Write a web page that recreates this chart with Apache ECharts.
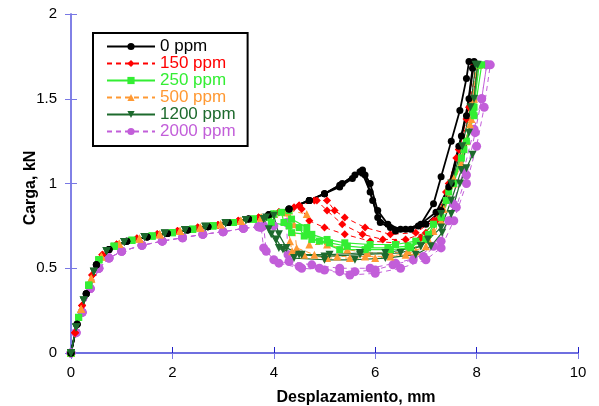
<!DOCTYPE html>
<html>
<head>
<meta charset="utf-8">
<script src="https://cdn.jsdelivr.net/npm/echarts@6/dist/echarts.min.js"></script>
<style>html,body{margin:0;padding:0;background:#fff}#c{width:599px;height:406px}</style>
</head>
<body>
<div id="c"></div>
<script>
// ---- data: [displacement mm, load kN] ----
const xTicks = [0, 2, 4, 6, 8, 10];
const yTicks = [0, 0.5, 1, 1.5, 2];
const groupNames = ['0 ppm', '150 ppm', '250 ppm', '500 ppm', '1200 ppm', '2000 ppm'];

const base0 = [[0,0],[0.12,0.17],[0.3,0.35],[0.5,0.52],[0.75,0.61],[1.1,0.66],[1.5,0.685],[1.9,0.705],[2.3,0.725],[2.7,0.745],[3.1,0.77],[3.5,0.79],[3.9,0.815],[4.3,0.85],[4.7,0.90],[5.0,0.94]];
const p0a = [[5.3,0.99],[5.6,1.05],[5.75,1.06],[5.9,0.95],[6.05,0.80],[6.3,0.74],[6.6,0.73],[6.9,0.76],[7.15,0.88],[7.3,1.04],[7.5,1.25],[7.67,1.43],[7.8,1.62],[7.85,1.72]];
const p0b = [[5.35,1.0],[5.7,1.07],[5.8,1.05],[5.95,0.90],[6.1,0.77],[6.4,0.72],[6.7,0.73],[7.0,0.76],[7.3,0.84],[7.5,1.0],[7.7,1.28],[7.85,1.50],[7.95,1.72]];
const p0c = [[5.3,0.98],[5.55,1.03],[5.75,1.08],[5.9,1.0],[6.05,0.84],[6.25,0.76],[6.5,0.73],[6.85,0.75],[7.2,0.83],[7.45,0.98],[7.65,1.22],[7.8,1.40],[7.92,1.68]];

const base150 = [[0,0],[0.08,0.12],[0.22,0.28],[0.42,0.46],[0.62,0.58],[0.9,0.64],[1.3,0.675],[1.7,0.70],[2.1,0.72],[2.5,0.74],[2.9,0.755],[3.3,0.78],[3.7,0.80],[4.1,0.83]];
const p150a = [[4.5,0.87],[4.85,0.90],[5.05,0.84],[5.35,0.76],[5.75,0.70],[6.15,0.67],[6.6,0.67],[7.0,0.71],[7.25,0.82],[7.45,1.0],[7.65,1.2],[7.85,1.45],[8.0,1.70]];
const p150b = [[4.4,0.86],[4.55,0.85],[4.7,0.78],[5.0,0.74],[5.4,0.70],[5.9,0.66],[6.4,0.65],[6.9,0.68],[7.2,0.78],[7.4,0.95],[7.6,1.15],[7.8,1.38],[7.95,1.70]];
const p150c = [[4.5,0.87],[4.8,0.90],[5.05,0.90],[5.2,0.84],[5.4,0.80],[5.8,0.74],[6.3,0.70],[6.8,0.71],[7.15,0.78],[7.4,0.95],[7.65,1.20],[7.9,1.45],[8.02,1.70]];

const base250 = [[0,0],[0.15,0.21],[0.35,0.40],[0.55,0.55],[0.85,0.63],[1.2,0.665],[1.6,0.69],[2.0,0.71],[2.4,0.73],[2.8,0.75],[3.2,0.77],[3.6,0.79]];
const p250a = [[3.9,0.80],[3.95,0.77],[4.3,0.75],[4.35,0.71],[4.65,0.70],[4.75,0.67],[5.1,0.65],[5.45,0.63],[5.85,0.62],[6.25,0.62],[6.65,0.63],[7.0,0.67],[7.3,0.80],[7.55,1.0],[7.8,1.25],[7.95,1.45],[8.05,1.70]];
const p250b = [[4.0,0.82],[4.3,0.84],[4.35,0.79],[4.65,0.74],[4.75,0.70],[5.05,0.67],[5.4,0.65],[5.9,0.64],[6.4,0.64],[6.8,0.66],[7.15,0.76],[7.45,0.95],[7.75,1.2],[7.93,1.42],[8.02,1.70]];
const p250c = [[4.0,0.82],[4.15,0.83],[4.2,0.77],[4.5,0.74],[4.6,0.69],[4.9,0.66],[5.3,0.61],[5.8,0.61],[6.3,0.61],[6.7,0.62],[7.05,0.70],[7.4,0.90],[7.7,1.15],[7.95,1.40],[8.1,1.70]];

const base500 = [[0,0],[0.2,0.26],[0.4,0.44],[0.6,0.57],[0.95,0.645],[1.35,0.675],[1.75,0.70],[2.15,0.72],[2.55,0.74],[2.95,0.76],[3.35,0.78],[3.75,0.80],[4.0,0.82]];
const p500a = [[4.25,0.83],[4.32,0.66],[4.36,0.60],[4.6,0.58],[5.05,0.56],[5.5,0.56],[6.0,0.56],[6.6,0.58],[7.0,0.63],[7.3,0.78],[7.55,1.0],[7.8,1.25],[7.95,1.50],[8.02,1.70]];
const p500b = [[4.3,0.84],[4.65,0.82],[4.68,0.70],[4.7,0.64],[5.05,0.64],[5.45,0.61],[5.85,0.59],[6.3,0.59],[6.65,0.60],[7.05,0.67],[7.35,0.85],[7.55,1.03],[7.87,1.35],[8.0,1.70]];
const p500c = [[4.25,0.83],[4.4,0.76],[4.45,0.62],[4.8,0.58],[5.25,0.57],[5.8,0.57],[6.3,0.57],[6.8,0.60],[7.15,0.72],[7.45,0.92],[7.7,1.12],[7.9,1.38],[8.05,1.70]];

const base1200 = [[0,0],[0.1,0.15],[0.25,0.31],[0.45,0.48],[0.7,0.60],[1.05,0.655],[1.45,0.685],[1.85,0.705],[2.25,0.725],[2.65,0.745],[3.05,0.765],[3.45,0.785]];
const p1200a = [[3.8,0.79],[3.9,0.73],[4.05,0.67],[4.18,0.61],[4.5,0.58],[5.0,0.57],[5.7,0.58],[6.5,0.59],[6.9,0.63],[7.3,0.74],[7.5,0.90],[7.7,1.08],[7.85,1.30],[7.95,1.50],[8.02,1.70]];
const p1200b = [[3.85,0.80],[4.0,0.81],[4.1,0.70],[4.25,0.62],[4.55,0.58],[5.1,0.58],[5.7,0.59],[6.2,0.59],[6.9,0.63],[7.04,0.67],[7.3,0.82],[7.5,1.0],[7.72,1.22],[7.88,1.45],[7.98,1.70]];
const p1200c = [[3.8,0.79],[3.95,0.70],[4.1,0.62],[4.4,0.56],[5.0,0.55],[5.6,0.55],[6.2,0.56],[6.8,0.58],[7.1,0.63],[7.32,0.71],[7.5,0.82],[7.67,1.0],[7.8,1.09],[7.92,1.17]];

const base2000 = [[0,0],[0.1,0.12],[0.22,0.24],[0.38,0.38],[0.55,0.50],[0.75,0.56],[1.0,0.60],[1.4,0.635],[1.8,0.66],[2.2,0.68],[2.6,0.70],[3.0,0.715],[3.4,0.735],[3.7,0.745]];
const p2000a = [[3.75,0.74],[3.8,0.62],[4.0,0.55],[4.5,0.51],[4.9,0.50],[5.3,0.48],[5.6,0.48],[6.0,0.49],[6.35,0.52],[6.75,0.55],[7.15,0.63],[7.45,0.78],[7.6,0.86],[7.8,1.05],[7.97,1.30],[8.1,1.50],[8.2,1.70]];
const p2000b = [[3.8,0.75],[3.85,0.60],[4.1,0.53],[4.55,0.50],[5.0,0.49],[5.5,0.46],[6.0,0.47],[6.5,0.50],[7.0,0.55],[7.3,0.62],[7.55,0.78],[7.8,1.0],[8.0,1.22],[8.15,1.45],[8.27,1.70]];
const p2000c = [[4.0,0.75],[4.25,0.77],[4.28,0.58],[4.3,0.54],[4.75,0.52],[5.3,0.50],[5.9,0.50],[6.4,0.53],[6.95,0.57],[7.3,0.66],[7.54,0.88],[7.75,1.08],[7.95,1.32],[8.1,1.50],[8.2,1.70]];

// ---- styles ----
const groups = [
  {name: groupNames[5], color: '#c25ed9', symbol: 'circle', size: 9, type: [5,4], width: 1, rot: 0, base: base2000, tails: [p2000a, p2000b, p2000c]},
  {name: groupNames[1], color: '#ff0000', symbol: 'diamond', size: 8, type: [5,4], width: 1, rot: 0, base: base150, tails: [p150a, p150b, p150c]},
  {name: groupNames[3], color: '#ff9933', symbol: 'triangle', size: 8, type: [5,4], width: 1, rot: 0, base: base500, tails: [p500a, p500b, p500c]},
  {name: groupNames[2], color: '#33ee33', symbol: 'rect', size: 7, type: 'solid', width: 1.2, rot: 0, base: base250, tails: [p250a, p250b, p250c]},
  {name: groupNames[0], color: '#000000', symbol: 'circle', size: 7, type: 'solid', width: 1.8, rot: 0, base: base0, tails: [p0a, p0b, p0c]},
  {name: groupNames[4], color: '#1d6a2d', symbol: 'triangle', size: 8, type: 'solid', width: 1.2, rot: 180, base: base1200, tails: [p1200a, p1200b, p1200c]}
];

const series = [];
groups.forEach(g => {
  g.tails.forEach(t => {
    series.push({
      name: g.name, type: 'line', xAxisIndex: 0, yAxisIndex: 0,
      data: g.base.concat(t),
      symbol: g.symbol, symbolSize: g.size, symbolRotate: g.rot, showSymbol: true,
      lineStyle: {color: g.color, width: g.width, type: g.type},
      itemStyle: {color: g.color},
      emphasis: {disabled: true}, animation: false, smooth: false
    });
  });
});

const legendColors = {'0 ppm':'#000000','150 ppm':'#ff0000','250 ppm':'#33ee33','500 ppm':'#ff9933','1200 ppm':'#1d6a2d','2000 ppm':'#c25ed9'};
const font = "'Liberation Sans', Arial, sans-serif";
const lightBlue = '#7878e4';
const darkBlue = '#2020c8';

const chart = echarts.init(document.getElementById('c'), null, {renderer: 'canvas'});
chart.setOption({
  animation: false,
  backgroundColor: '#ffffff',
  grid: {left: 71, right: 21, top: 14, bottom: 53},
  legend: {
    orient: 'vertical', left: 93, top: 33,
    data: groupNames.map(n => ({name: n, textStyle: {color: legendColors[n]}})),
    itemWidth: 48, itemHeight: 9, itemGap: 0,
    padding: [5, 12, 6, 13],
    borderColor: '#000', borderWidth: 2, backgroundColor: '#fff',
    textStyle: {fontFamily: font, fontSize: 17, lineHeight: 17, padding: [0,0,0,0]},
    selectedMode: false
  },
  xAxis: [
    {type: 'value', min: xTicks[0], max: xTicks[xTicks.length-1], interval: 2, position: 'bottom',
     axisLine: {show: true, lineStyle: {color: darkBlue, width: 1.5}},
     axisTick: {show: true, inside: true, length: 6, lineStyle: {color: darkBlue}},
     axisLabel: {color: '#000', fontFamily: font, fontSize: 15, margin: 12},
     splitLine: {show: false}},
    {type: 'value', min: 0, max: 10, interval: 2, position: 'top',
     axisLine: {show: true, lineStyle: {color: lightBlue, width: 1.5}},
     axisTick: {show: true, inside: true, length: 6, lineStyle: {color: lightBlue}},
     axisLabel: {show: false}, splitLine: {show: false}}
  ],
  yAxis: [
    {type: 'value', min: yTicks[0], max: yTicks[yTicks.length-1], interval: 0.5, position: 'left',
     axisLine: {show: true, lineStyle: {color: lightBlue, width: 1.5}},
     axisTick: {show: true, inside: true, length: 6, lineStyle: {color: lightBlue}},
     axisLabel: {color: '#000', fontFamily: font, fontSize: 15, margin: 14},
     splitLine: {show: false}},
    {type: 'value', min: 0, max: 2, interval: 0.5, position: 'right',
     axisLine: {show: true, lineStyle: {color: lightBlue, width: 1.5}},
     axisTick: {show: true, inside: true, length: 6, lineStyle: {color: lightBlue}},
     axisLabel: {show: false}, splitLine: {show: false}}
  ],
  graphic: [
    {type: 'text', x: 356, y: 398, style: {text: 'Desplazamiento, mm', fontFamily: font, fontSize: 16, fontWeight: 'bold', fill: '#000', align: 'center', verticalAlign: 'middle'}},
    {type: 'text', rotation: Math.PI/2, x: 31, y: 188, style: {text: 'Carga, kN', fontFamily: font, fontSize: 16, fontWeight: 'bold', fill: '#000', align: 'center', verticalAlign: 'middle'}}
  ],
  series: series
});
</script>
</body>
</html>
